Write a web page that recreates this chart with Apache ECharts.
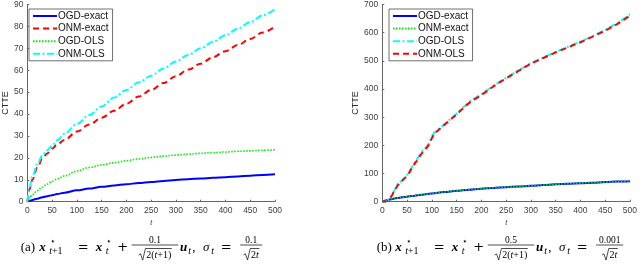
<!DOCTYPE html>
<html><head><meta charset="utf-8">
<script src="https://cdn.jsdelivr.net/npm/echarts@6/dist/echarts.min.js"></script>
<style>html,body{margin:0;padding:0;background:#fff}#c{width:640px;height:264px}</style>
</head><body><div id="c"></div>
<script>
// ---------- data ----------
const tA = [0,5,10,20,30,40,50,60,75,100,125,150,175,200,225,250,275,300,325,350,375,400,425,450,475,500];
// (a) left panel
const ogdExactA = [0,0.4,0.8,1.4,2,2.5,3,3.5,4.1,5.2,6,6.8,7.4,8,8.5,9,9.5,9.9,10.3,10.6,10.9,11.2,11.5,11.9,12.2,12.5];
const onmExactA = [0,6,10,15.5,19.5,22,24.3,26,28.2,32,35.2,38.3,41.5,44.7,48,51,54.2,57.3,60.3,63,66,68.7,71.5,74.3,77.2,80];
const ogdOlsA   = [0,2,3.2,5,6.6,8,9.3,10.4,11.8,14,15.6,16.8,17.8,18.7,19.5,20.2,20.8,21.3,21.7,22.1,22.4,22.7,23,23.2,23.5,23.7];
const onmOlsA   = [0,7,11.5,17,21,23.5,25.5,28,31,35.5,39.5,43.5,47.5,51,54.5,57.5,60.8,64,67,70,73,76,79,82,85,88];
// (b) right panel
const ogdExactB = [0,3,6,10,13,15.5,18,20,24,29,34,38.5,42.5,46,49,51.5,54,56.5,59,61.5,63.5,65.5,67.5,69.5,71.5,73];
const onmExactB = [0,3,6.2,10.3,13.3,15.8,18.3,20.3,24.3,29.4,34.4,39,43,46.5,49.5,52,54.5,57,59.5,62,64,66,68,70,72,73.5];
const tOls = [0,5,10,15,20,25,30,35,40,50,55,60,65,70,75,80,85,90,95,100,105,110,125,150,160,170,175,180,200,225,250,275,300,325,350,375,400,425,450,475,500];
const ogdOlsB = [0,0,3,12,25,42,60,68,76,95,108,124,138,150,165,178,188,196,210,232,245,252,275,312,330,345,355,360,382,412,440,466,492,512,532,550,568,588,610,634,665];
const onmOlsB = [0,0,2,10,24,40,55,66,74,92,105,120,134,146,160,172,182,192,205,225,240,249,272,310,326,342,350,357,378,410,438,464,490,510,530,548,566,586,607,631,660];
const legendA = ['OGD-exact','ONM-exact','OGD-OLS','ONM-OLS'];
const legendB = ['OGD-exact','ONM-exact','OGD-OLS','ONM-OLS'];
const xTicks = {min:0, max:500, interval:50};
const yTicksA = {min:0, max:90, interval:10};
const yTicksB = {min:0, max:700, interval:100};
const yName = 'CTTE', xName = 't';
const capA = {tag:'(a)', step:'0.1', sigma:'0.1'};
const capB = {tag:'(b)', step:'0.5', sigma:'0.001'};

// ---------- helpers ----------
const pair = (xs, ys) => xs.map((x,i)=>[x, ys[i]]);
const SANS = "'Liberation Sans', Arial, sans-serif";
const SERIF = "'Liberation Serif', 'DejaVu Serif', serif";
const OPF = "'DejaVu Serif', serif";
const styles = {
  blue:  {color:'#0000ff', width:2, type:'solid'},
  red:   {color:'#ff0000', width:2, type:[6,4]},
  green: {color:'#00ee00', width:1.6, type:[1.5,1.5]},
  cyan:  {color:'#00ffff', width:2, type:[7,2.5,2,2.5]}
};
function mk(name, data, st, grid, smooth){
  return {name:name, type:'line', xAxisIndex:grid, yAxisIndex:grid, data:data, symbol:'none',
    smooth: smooth ? 0.35 : false, smoothMonotone:'x',
    lineStyle:{color:st.color, width:st.width, type:st.type}, itemStyle:{color:st.color},
    emphasis:{disabled:true}, animation:false};
}
function xAx(grid){
  return {type:'value', gridIndex:grid, min:xTicks.min, max:xTicks.max, interval:xTicks.interval,
    name:xName, nameLocation:'middle', nameGap:11,
    nameTextStyle:{fontFamily:SANS, fontSize:7, fontStyle:'italic', color:'#333'},
    axisLine:{lineStyle:{color:'#666', width:1}},
    axisTick:{inside:true, length:2, lineStyle:{color:'#666'}},
    axisLabel:{fontFamily:SANS, fontSize:8.5, color:'#404040', margin:4},
    splitLine:{show:false}};
}
function yAx(grid, t, gap){
  return {type:'value', gridIndex:grid, min:t.min, max:t.max, interval:t.interval,
    name:yName, nameLocation:'middle', nameGap:gap, nameRotate:90,
    nameTextStyle:{fontFamily:SANS, fontSize:9, color:'#262626'},
    axisLine:{show:true, lineStyle:{color:'#666', width:1}},
    axisTick:{show:true, inside:true, length:2, lineStyle:{color:'#666'}},
    axisLabel:{fontFamily:SANS, fontSize:8.5, color:'#404040', margin:4},
    splitLine:{show:false}};
}
function lg(prefix, names, left){
  return {orient:'vertical', left:left, top:9, width:76,
    data:names.map(n=>prefix+n),
    formatter:n=>n.slice(2),
    backgroundColor:'#fff', borderColor:'#333', borderWidth:0.7,
    padding:[2,4,2,3], itemGap:2.6, itemWidth:24, itemHeight:10,
    itemStyle:{opacity:0},
    textStyle:{fontFamily:SANS, fontSize:10, color:'#111', padding:[0,0,0,-4]},
    selectedMode:false};
}

// ---------- caption builder ----------
const ctx = document.createElement('canvas').getContext('2d');
function tw(s, font){ ctx.font = font; return ctx.measureText(s).width; }
function F(size, style, weight, fam){ return [(style||''),(weight||''), size+'px', fam||SERIF].join(' ').trim(); }
const RM = F(13), BI = F(13,'italic','bold'), IT = F(13,'italic'), OP = F(13,'','',OPF);
const SUP = F(9), SUB = F(10,'italic'), SUBR = F(10), NUM = F(9.5), DEN = F(10), DENI = F(10,'italic');
function caption(x0, ym, c, lastW){
  const out = [];
  const text = (s, xx, yy, font) => out.push({type:'text', silent:true,
    style:{text:s, x:xx, y:yy, font:font, fill:'#000', align:'left', verticalAlign:'middle',
      textAlign:'left', textVerticalAlign:'middle'}});
  const frac = (dx, w, num, den) => {
    const x = x0 + dx, bar = ym - 3;
    out.push({type:'line', silent:true, shape:{x1:x, y1:bar, x2:x+w, y2:bar}, style:{stroke:'#000', lineWidth:0.7}});
    const nw = tw(num, NUM);
    text(num, x + (w-nw)/2, bar-5, NUM);
    const rw = 7.5;
    const dw = den.reduce((s,p)=>s+tw(p[0], p[1]), 0);
    let dx0 = x + (w - dw - rw)/2;
    const top = bar + 3.5, bot = bar + 15;
    out.push({type:'polyline', silent:true,
      shape:{points:[[dx0, bot-5],[dx0+1.8, bot-6.2],[dx0+4, bot],[dx0+rw-0.8, top],[dx0+rw+dw+0.5, top]]},
      style:{stroke:'#000', lineWidth:0.7, fill:null}});
    let xx = dx0 + rw;
    den.forEach(p => { text(p[0], xx, bar + 10, p[1]); xx += tw(p[0], p[1]); });
  };
  text(c.tag, x0, ym, RM);
  text('x', x0+18.5, ym, BI); text('⋆', x0+29, ym-6, SUP);
  text('t', x0+28.5, ym+3.5, SUB); text('+1', x0+28.5+tw('t',SUB), ym+3.5, SUBR);
  text('=', x0+57, ym, OP);
  text('x', x0+75, ym, BI); text('⋆', x0+85.5, ym-6, SUP); text('t', x0+85, ym+3.5, SUB);
  text('+', x0+96.5, ym, OP);
  frac(111, 46.6, c.step, [['2(',DEN],['t',DENI],['+1)',DEN]]);
  text('u', x0+159.3, ym, BI); text('t', x0+167.5, ym+3.5, SUB);
  text(',', x0+171.5, ym, RM);
  text('σ', x0+182.3, ym, IT); text('t', x0+190.5, ym+3.5, SUB);
  text('=', x0+200, ym, OP);
  frac(219.5, lastW, c.sigma, [['2',DEN],['t',DENI]]);
  return out;
}

const chart = echarts.init(document.getElementById('c'), null, {renderer:'canvas'});
chart.setOption({
  animation:false,
  backgroundColor:'#fff',
  grid:[
    {left:23, top:3.3, width:252, height:198.4, containLabel:false},
    {left:382.3, top:3.3, width:251, height:198.4, containLabel:false}
  ],
  xAxis:[xAx(0), xAx(1)],
  yAxis:[yAx(0, yTicksA, 14), yAx(1, yTicksB, 17)],
  legend:[lg('a:', legendA, 29), lg('b:', legendB, 389)],
  series:[
    mk('a:'+legendA[0], pair(tA, ogdExactA), styles.blue, 0, true),
    mk('a:'+legendA[1], pair(tA, onmExactA), styles.red, 0, true),
    mk('a:'+legendA[2], pair(tA, ogdOlsA), styles.green, 0, true),
    mk('a:'+legendA[3], pair(tA, onmOlsA), styles.cyan, 0, true),
    mk('b:'+legendB[0], pair(tA, ogdExactB), styles.blue, 1, true),
    mk('b:'+legendB[1], pair(tA, onmExactB), styles.green, 1, true),
    mk('b:'+legendB[2], pair(tOls, ogdOlsB), styles.cyan, 1, false),
    mk('b:'+legendB[3], pair(tOls, onmOlsB), styles.red, 1, false)
  ],
  graphic: caption(20.7, 248, capA, 22).concat(caption(376.7, 248, capB, 27))
});
</script></body></html>
